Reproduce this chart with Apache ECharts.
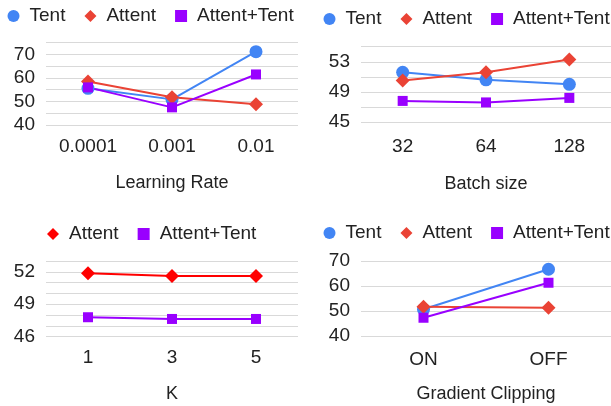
<!DOCTYPE html>
<html><head><meta charset="utf-8">
<script src="https://cdn.jsdelivr.net/npm/echarts@6/dist/echarts.min.js"></script>
<style>html,body{margin:0;padding:0;background:#fff}#c{width:611px;height:406px}</style>
</head><body><div id="c"></div>
<script>
// Panel 1: Learning Rate
var lrCats = ['0.0001', '0.001', '0.01'];
var lrTent = [55.6, 50.9, 71.2];
var lrAttent = [58.5, 51.8, 48.8];
var lrBoth = [56.0, 47.5, 61.5];
// Panel 2: Batch size
var bsCats = ['32', '64', '128'];
var bsTent = [51.6, 50.6, 50.0];
var bsAttent = [50.5, 51.6, 53.3];
var bsBoth = [47.8, 47.6, 48.2];
// Panel 3: K
var kCats = ['1', '3', '5'];
var kAttent = [51.87, 51.62, 51.62];
var kBoth = [47.8, 47.64, 47.64];
// Panel 4: Gradient Clipping
var gcCats = ['ON', 'OFF'];
var gcTent = [50.7, 66.7];
var gcAttent = [51.7, 51.3];
var gcBoth = [47.3, 61.3];

var BLUE = '#4285f4', RED = '#ea4335', RED2 = '#ff0000', PURPLE = '#9900ff';
var FONT = '"Liberation Sans", Arial, sans-serif';
var TXT = '#222';

var chart = echarts.init(document.getElementById('c'), null, {renderer: 'canvas'});

function xAxis(i, cats, name, margin, gap) {
  return {
    type: 'category', gridIndex: i, data: cats, boundaryGap: true,
    axisLine: {show: false}, axisTick: {show: false},
    axisLabel: {color: TXT, fontSize: 19, fontFamily: FONT, margin: margin},
    name: name, nameLocation: 'middle', nameGap: gap,
    nameTextStyle: {color: TXT, fontSize: 18, fontFamily: FONT}
  };
}
function yAxis(i, min, max, interval, labelFn) {
  return {
    type: 'value', gridIndex: i, min: min, max: max, interval: interval,
    axisLine: {show: false}, axisTick: {show: false},
    splitLine: {show: true, lineStyle: {color: '#d9d9d9', width: 1}},
    axisLabel: {color: TXT, fontSize: 19, fontFamily: FONT, margin: 11, formatter: labelFn}
  };
}
function ser(name, i, data, color, symbol, size) {
  return {
    name: name, type: 'line', xAxisIndex: i, yAxisIndex: i, data: data,
    symbol: symbol, symbolSize: size, lineStyle: {color: color, width: 2},
    itemStyle: {color: color}, emphasis: {disabled: true}, animation: false
  };
}
function legendItem(name, icon, color) {
  return {name: name, icon: icon, itemStyle: {color: color}};
}
function legend(left, top, items) {
  return {
    left: left, top: top, width: 400, padding: 0, orient: 'horizontal',
    itemWidth: 12, itemHeight: 12, itemGap: 19,
    selectedMode: false,
    textStyle: {color: TXT, fontSize: 19, fontFamily: FONT, padding: [0, 0, 0, 5]},
    data: items
  };
}

var three = function(c1){ return [legendItem('Tent', 'circle', BLUE), legendItem('Attent', 'diamond', c1), legendItem('Attent+Tent', 'rect', PURPLE)]; };

chart.setOption({
  animation: false,
  grid: [
    {left: 46, top: 42.7, width: 252, height: 82.3},
    {left: 361, top: 46.7, width: 253, height: 75.3},
    {left: 46, top: 261, width: 252, height: 75.7},
    {left: 361, top: 261, width: 253, height: 75}
  ],
  legend: [
    legend(7.5, 6.5, three(RED)),
    legend(323.5, 9.5, three(RED)),
    legend(47, 224.5, [legendItem('Attent', 'diamond', RED2), legendItem('Attent+Tent', 'rect', PURPLE)]),
    legend(323.5, 223.5, three(RED))
  ],
  xAxis: [
    xAxis(0, lrCats, 'Learning Rate', 12, 49),
    xAxis(1, bsCats, 'Batch size', 15, 53),
    xAxis(2, kCats, 'K', 12, 48),
    xAxis(3, gcCats, 'Gradient Clipping', 14, 49)
  ],
  yAxis: [
    yAxis(0, 40, 75, 5, function(v){ return v % 10 === 0 ? String(v) : ''; }),
    yAxis(1, 45, 55, 2, function(v){ return (v - 45) % 4 === 0 ? String(v) : ''; }),
    yAxis(2, 46, 53, 1, function(v){ return (v - 46) % 3 === 0 ? String(v) : ''; }),
    yAxis(3, 40, 70, 10, function(v){ return String(v); })
  ],
  series: [
    ser('Tent', 0, lrTent, BLUE, 'circle', 13),
    ser('Attent', 0, lrAttent, RED, 'diamond', 14),
    ser('Attent+Tent', 0, lrBoth, PURPLE, 'rect', 10),
    ser('Tent', 1, bsTent, BLUE, 'circle', 13),
    ser('Attent', 1, bsAttent, RED, 'diamond', 14),
    ser('Attent+Tent', 1, bsBoth, PURPLE, 'rect', 10),
    ser('Attent', 2, kAttent, RED2, 'diamond', 14),
    ser('Attent+Tent', 2, kBoth, PURPLE, 'rect', 10),
    ser('Tent', 3, gcTent, BLUE, 'circle', 13),
    ser('Attent', 3, gcAttent, RED, 'diamond', 14),
    ser('Attent+Tent', 3, gcBoth, PURPLE, 'rect', 10)
  ]
});
</script></body></html>
